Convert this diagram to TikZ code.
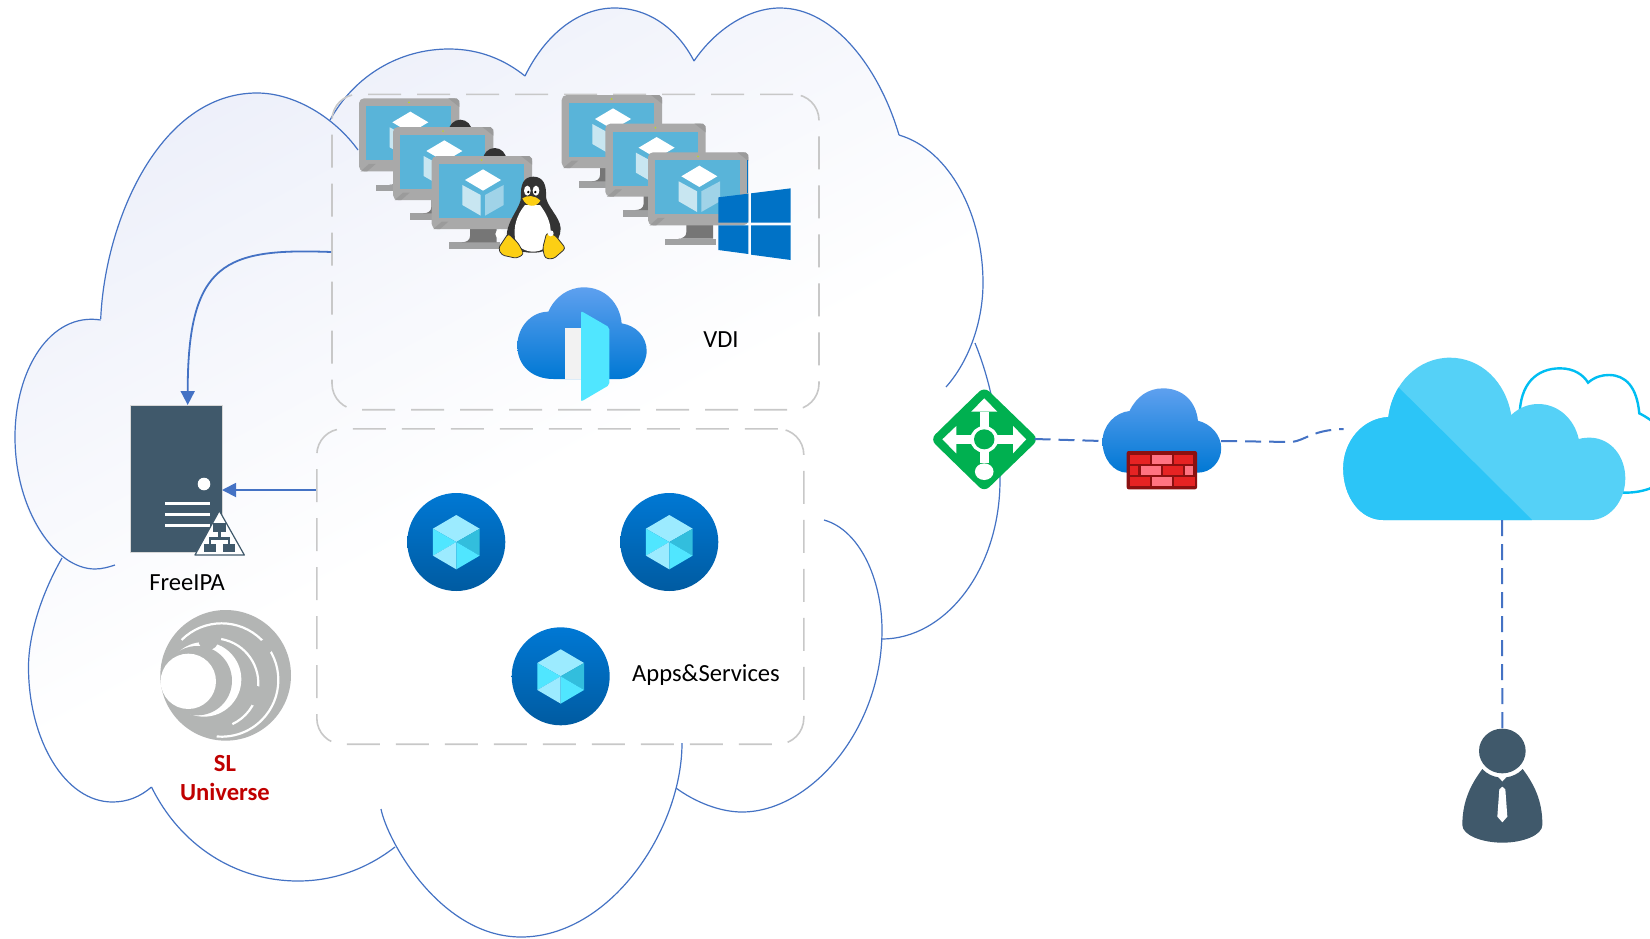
\documentclass[tikz,border=0pt]{standalone}
\usepackage{fontspec}
\setmainfont{Carlito}
\usetikzlibrary{arrows.meta,calc}
\definecolor{outlineblue}{HTML}{4472C4}
\definecolor{boxgray}{HTML}{C8C8C8}
\definecolor{cloudtint}{HTML}{EBEEF9}
\definecolor{slate}{HTML}{40596B}
\definecolor{monbezel}{HTML}{A9A9A9}
\definecolor{moncorner}{HTML}{9B9B9B}
\definecolor{monbase}{HTML}{A0A1A2}
\definecolor{monneck}{HTML}{767676}
\definecolor{monscreen}{HTML}{59B4D9}
\definecolor{cubeleft}{HTML}{C8E6F1}
\definecolor{cuberight}{HTML}{A0D3E8}
\definecolor{mondot}{HTML}{B8D432}
\definecolor{winblue}{HTML}{0072C6}
\definecolor{azuretop}{HTML}{5EA0EF}
\definecolor{azurebot}{HTML}{0078D4}
\definecolor{azuredeep}{HTML}{005BA1}
\definecolor{cyanA}{HTML}{50E6FF}
\definecolor{cyanB}{HTML}{9CEBFF}
\definecolor{cyanC}{HTML}{32BEDD}
\definecolor{routergreen}{HTML}{00B050}
\definecolor{brickdark}{HTML}{8B1010}
\definecolor{brickred}{HTML}{E62323}
\definecolor{brickpink}{HTML}{FF7381}
\definecolor{skyfront}{HTML}{2CC5F7}
\definecolor{skyback}{HTML}{55D1F7}
\definecolor{skyline}{HTML}{00BEF2}
\definecolor{sllogo}{HTML}{B3B5B4}
\definecolor{slred}{HTML}{C00000}
\definecolor{tuxdark}{HTML}{333333}
\definecolor{tuxyellow}{HTML}{FCCF14}
\pgfdeclareverticalshading{cloudbg}{100bp}{color(0bp)=(white); color(49bp)=(white); color(78bp)=(cloudtint); color(100bp)=(cloudtint)}
\tikzset{
  x=0.5pt,y=-0.5pt,
  cloudline/.style={draw=outlineblue,line width=0.6pt},
  groupbox/.style={draw=boxgray,line width=0.8pt,rounded corners=13pt,dash pattern=on 16.5pt off 8pt,minimum width=243.5pt,minimum height=157.7pt,inner sep=0pt},
  flow/.style={draw=outlineblue,line width=0.9pt,-{Triangle[width=7pt,length=7pt]}},
  link/.style={draw=outlineblue,line width=1pt,dash pattern=on 8pt off 4pt},
  anchorbox/.style={inner sep=0pt,outer sep=0pt,minimum width=#1},
  label/.style={font=\fontsize{12.3pt}{14.8pt}\selectfont,text=black,inner sep=0pt},
  monitor/.pic={
    \fill[monbase] (52,259) rectangle (205,279);
    \fill[monneck] (115,215) -- (115,240) .. controls (115,252) and (105,259) .. (90,259) -- (195,259) -- (195,215) -- cycle;
    \fill[monbezel,rounded corners=2.5pt] (0,0) rectangle (301,219);
    \fill[moncorner] (268,0) -- (293,0) -- (301,8) -- (301,26) -- cycle;
    \fill[moncorner] (5,219) -- (30,197) -- (50,197) -- (25,219) -- cycle;
    \fill[monscreen] (22,24) rectangle (277,186);
    \fill[white] (154,40) -- (208,72) -- (154,104) -- (100,72) -- cycle;
    \fill[cubeleft] (92,87) -- (147,117) -- (147,179) -- (92,147) -- cycle;
    \fill[cuberight] (160,117) -- (216,87) -- (216,147) -- (160,179) -- cycle;
    \fill[mondot] (150,12) circle (3);
  },
  cubeicon/.pic={
    \shade[top color=azurebot,bottom color=azuredeep] (0,0) circle (147);
    \fill[cyanB] (0,-81) -- (70,-40) -- (0,0) -- (-70,-40) -- cycle;
    \fill[cyanA] (-70,-40) -- (0,0) -- (-70,41) -- cycle;
    \fill[cyanC] (70,-40) -- (70,41) -- (0,0) -- cycle;
    \fill[cyanB] (-70,41) -- (0,0) -- (0,82) -- cycle;
    \fill[cyanA] (0,0) -- (70,41) -- (0,82) -- cycle;
  },
}
\begin{document}
\begin{tikzpicture}
\useasboundingbox[fill=white] (0,0) rectangle (1650,938);

% cloud silhouette
\shade[shading=cloudbg,shading angle=28]
  (100.7,319) .. controls (105,220) and (160,93) .. (257,93)
  .. controls (285,93) and (310,107) .. (330,120)
  .. controls (355,75) and (400,49) .. (449,49)
  .. controls (480,49) and (505,60) .. (525,76)
  .. controls (545,35) and (578,8) .. (614.5,8)
  .. controls (650,8) and (678,30) .. (694,61)
  .. controls (715,30) and (748,8) .. (780,8)
  .. controls (835,8) and (880,70) .. (899,135)
  .. controls (950,150) and (983,215) .. (983,283)
  .. controls (983,305) and (980,325) .. (975,343)
  .. controls (992,385) and (1000,430) .. (1000,480)
  .. controls (1000,570) and (945,639) .. (882,639)
  .. controls (860,730) and (810,812) .. (742,812)
  .. controls (720,812) and (695,802) .. (676,788)
  .. controls (650,880) and (590,937) .. (521,937)
  .. controls (470,937) and (425,900) .. (395,847)
  .. controls (368,868) and (335,881) .. (298,881)
  .. controls (235,881) and (180,845) .. (151.5,787)
  .. controls (140,797) and (127,802) .. (112.5,802)
  .. controls (65,802) and (28.5,740) .. (28.5,667)
  .. controls (28.5,640) and (38,600) .. (62,558)
  .. controls (30,530) and (15,490) .. (15,437)
  .. controls (15,370) and (50,312) .. (100.7,319) -- cycle;

% cloud outline
\draw[cloudline] (100.7,319) .. controls (105,220) and (160,93) .. (257,93) .. controls (295,93) and (335,118) .. (358,150);
\draw[cloudline] (100.7,320) .. controls (50,312) and (15,370) .. (15,437) .. controls (15,510) and (55,569) .. (95,569) .. controls (102,569) and (109,567) .. (115,565);
\draw[cloudline] (62,558) .. controls (38,600) and (28.5,640) .. (28.5,667) .. controls (28.5,740) and (65,802) .. (112.5,802) .. controls (127,802) and (140,797) .. (151.5,787);
\draw[cloudline] (151.5,787) .. controls (180,845) and (235,881) .. (298,881) .. controls (335,881) and (368,868) .. (395,847);
\draw[cloudline] (381,809) .. controls (387,840) and (440,937) .. (521,937) .. controls (610,937) and (682,830) .. (682,743);
\draw[cloudline] (676,788) .. controls (695,802) and (720,812) .. (742,812) .. controls (810,812) and (882,730) .. (882,630) .. controls (882,580) and (860,530) .. (824,520);
\draw[cloudline] (882,639) .. controls (945,639) and (1000,570) .. (1000,480) .. controls (1000,430) and (992,385) .. (975,343);
\draw[cloudline] (899,135) .. controls (950,150) and (983,215) .. (983,283) .. controls (983,320) and (970,360) .. (946,387);
\draw[cloudline] (330,120) .. controls (355,75) and (400,49) .. (449,49) .. controls (480,49) and (505,60) .. (525,76);
\draw[cloudline] (525,76) .. controls (545,35) and (578,8) .. (614.5,8) .. controls (650,8) and (678,30) .. (694,61);
\draw[cloudline] (694,61) .. controls (715,30) and (748,8) .. (780,8) .. controls (835,8) and (880,70) .. (899,135);

% group boxes
\node[groupbox] (vdibox) at (575.5,252) {};
\node[groupbox] (appsbox) at (560.3,586.5) {};

% server
\node[anchorbox=45.5pt,minimum height=73pt] (server) at (176.5,478.8) {};
\fill[slate] (131,406) rectangle (221.7,551.7);
\draw[boxgray!70,line width=0.4pt] (130.5,405.5) rectangle (222.2,552);
\fill[white] (204,484) circle (6.3);
\fill[white] (165,501.6) rectangle (210,505);
\fill[white] (165,512.6) rectangle (210,516);
\fill[white] (165,523.6) rectangle (210,527);
\begin{scope}[shift={(0,70)},scale=.33333]
  \filldraw[fill=white,draw=slate,line width=0.6pt,line join=round] (658,1322) -- (733,1455) -- (585,1455) -- cycle;
  \fill[slate] (640,1360) rectangle (677,1385);
  \fill[slate] (654,1385) rectangle (662,1405);
  \fill[slate] (627,1402) rectangle (690,1409);
  \fill[slate] (627,1402) rectangle (634,1423);
  \fill[slate] (683,1402) rectangle (690,1423);
  \fill[slate] (613,1423) rectangle (648,1447);
  \fill[slate] (668,1423) rectangle (705,1447);
\end{scope}

% arrows into the server
\coordinate (srvtop) at (187.7,405);
\coordinate (appsout) at (appsbox.west |- 0,490);
\draw[flow] (vdibox.west) .. controls (225,248) and (187.7,262) .. (srvtop);
\draw[flow] (appsout) -- (server.east |- appsout);

% SL logo
\begin{scope}[shift={(110,390)},scale=.33333]
  \fill[sllogo] (347,856) circle (196);
  \draw[white,line width=1.1pt] (335,870) ++(-135:170) arc (-135:95:170);
  \draw[white,line width=1.1pt] (310,880) ++(-80:135) arc (-80:65:135);
  \fill[white] (282,868) circle (112);
  \fill[sllogo] (262,872) circle (104);
  \fill[white] (235,874) circle (83);
  \fill[sllogo] (295,750) circle (30);
  \fill[sllogo] (467,770) circle (22);
  \fill[sllogo] (440,918) circle (30);
\end{scope}

% labels
\node[label] (freeipa) at (187,583) {FreeIPA};
\node[label] (vdilabel) at (721,340) {VDI};
\node[label] (appslabel) at (706,675) {Apps\&Services};
\node[label,text=slred,font=\fontsize{12.3pt}{14.8pt}\selectfont\bfseries,align=center] (sl) at (225,778) {SL\\Universe};

% linux monitors
\pic[scale=.33333] at (359,98.3) {monitor};
\fill[tuxdark] (460.3,131.7) ellipse (11.7 and 12);
\pic[scale=.33333] at (393,127) {monitor};
\fill[tuxdark] (494.7,160) ellipse (11.7 and 12);
\pic[scale=.33333] at (431.7,156) {monitor};

% tux
\begin{scope}[shift={(320,80)},scale=.33333]
  \fill[white] (540,462) circle (14);
  \fill[tuxdark] (640,290) .. controls (610,290) and (601,315) .. (603,350)
     .. controls (605,380) and (560,420) .. (560,470)
     .. controls (560,500) and (600,520) .. (640,518)
     .. controls (680,520) and (722,490) .. (722,445)
     .. controls (720,410) and (680,380) .. (678,350)
     .. controls (680,315) and (670,290) .. (640,290) -- cycle;
  \fill[white] (615,375) .. controls (590,405) and (580,440) .. (585,475)
     .. controls (590,505) and (620,515) .. (640,515)
     .. controls (665,515) and (690,500) .. (692,465)
     .. controls (695,425) and (675,395) .. (660,375) -- cycle;
  \fill[white] (622,332) ellipse (10 and 15);
  \fill[white] (648,332) ellipse (10 and 15);
  \fill[black] (625,336) circle (4);
  \fill[black] (646,336) circle (4);
  \fill[tuxyellow] (607,355) .. controls (622,345) and (645,345) .. (661,362)
     .. controls (650,382) and (620,385) .. (607,355) -- cycle;
  \filldraw[fill=tuxyellow,draw=tuxdark,line width=.4pt,rounded corners=1.5pt] (535,505) -- (565,460) -- (595,490) -- (612,522) -- (590,535) -- (545,525) -- cycle;
  \filldraw[fill=tuxyellow,draw=tuxdark,line width=.4pt,rounded corners=1.5pt] (668,505) -- (680,458) -- (705,465) -- (737,505) -- (700,537) -- (675,535) -- cycle;
  \fill[white] (692,460) circle (9);
\end{scope}

% windows monitors
\pic[scale=.33333] at (561.7,95) {monitor};
\pic[scale=.33333] at (605.3,123.7) {monitor};
\pic[scale=.33333] at (648,152.3) {monitor};
\begin{scope}[shift={(320,80)},scale=.33333]
  \fill[winblue] (1281,240) rectangle (1284,340);
  \fill[winblue] (1195,352) -- (1285,341) -- (1285,428) -- (1195,428) -- cycle;
  \fill[winblue] (1293,340) -- (1412,325) -- (1412,428) -- (1293,428) -- cycle;
  \fill[winblue] (1195,436) -- (1285,436) -- (1285,522) -- (1195,510) -- cycle;
  \fill[winblue] (1293,436) -- (1412,436) -- (1412,540) -- (1293,524) -- cycle;
% gateway cloud
  \shade[top color=azuretop,bottom color=azurebot] (700,897) .. controls (640,897) and (592,860) .. (592,797)
    .. controls (592,740) and (635,695) .. (685,695)
    .. controls (705,650) and (745,622) .. (792,622)
    .. controls (855,622) and (900,670) .. (905,730)
    .. controls (950,737) and (980,772) .. (980,812)
    .. controls (980,860) and (940,897) .. (900,897) -- cycle;
  \fill[black!5] (735,743) rectangle (785,897);
  \fill[cyanA,rounded corners=1pt] (783,693) -- (868,742) -- (868,915) -- (783,965) -- cycle;
\end{scope}

% application icons
\pic[scale=.33333] at (456.3,542) {cubeicon};
\pic[scale=.33333] at (669.3,542) {cubeicon};
\pic[scale=.33333] at (560.7,676.3) {cubeicon};

% router
\node[anchorbox=50.5pt,minimum height=50pt] (router) at (984,439) {};
\begin{scope}[shift={(920,350)},xscale=.46555,yscale=.33333]
  \fill[routergreen,rounded corners=3.5pt] (138,110) -- (255,268) -- (138,426) -- (22,268) -- cycle;
  \fill[white] (128,185) rectangle (148,340);
  \fill[white] (110,185) -- (138,145) -- (166,185) -- cycle;
  \fill[white] (78,254) rectangle (200,282);
  \fill[white] (78,228) -- (48,268) -- (78,310) -- cycle;
  \fill[white] (200,228) -- (228,268) -- (200,310) -- cycle;
  \fill[white] (138,365) ellipse (20 and 25);
  \fill[white] (138,268) ellipse (30 and 40);
  \fill[routergreen] (138,268) ellipse (22 and 30);
\end{scope}

% firewall
\node[anchorbox=59.3pt,minimum height=50pt] (firewall) at (1161.8,441) {};
\begin{scope}[shift={(920,350)},xscale=.46555,yscale=.33333]
  \shade[top color=azuretop,bottom color=azurebot] (445,368) .. controls (415,368) and (392,325) .. (392,275)
    .. controls (392,225) and (420,187) .. (450,183)
    .. controls (465,140) and (490,115) .. (522,115)
    .. controls (565,115) and (593,155) .. (597,212)
    .. controls (625,222) and (647,255) .. (647,295)
    .. controls (647,335) and (625,368) .. (597,368) -- cycle;
  \fill[brickdark,rounded corners=1pt] (444,303) rectangle (595,418);
  \fill[brickred] (451,315) rectangle (494,342);
  \fill[brickpink] (498,315) rectangle (541,342);
  \fill[brickred] (546,315) rectangle (587,342);
  \fill[brickred] (451,349) rectangle (469,375);
  \fill[brickpink] (475,349) rectangle (517,375);
  \fill[brickred] (522,349) rectangle (564,375);
  \fill[brickpink] (570,349) rectangle (587,375);
  \fill[brickred] (452,381) rectangle (494,408);
  \fill[brickpink] (498,381) rectangle (541,408);
  \fill[brickred] (546,381) rectangle (590,408);
\end{scope}

% big cloud
\begin{scope}
  \clip (1200,300) rectangle (1650,600);
  \begin{scope}[shift={(920,350)},xscale=.46555,yscale=.33333]
    \filldraw[fill=white,draw=skyline,line width=1.2pt] (1288,200) .. controls (1288,100) and (1325,55) .. (1375,55)
      .. controls (1405,55) and (1425,75) .. (1435,98)
      .. controls (1450,80) and (1465,75) .. (1480,75)
      .. controls (1515,75) and (1540,110) .. (1545,190)
      .. controls (1575,210) and (1620,260) .. (1620,330)
      .. controls (1620,390) and (1570,430) .. (1510,428) -- cycle;
  \end{scope}
\end{scope}
\begin{scope}[shift={(920,350)},xscale=.46555,yscale=.33333]
  \fill[skyback] (995,510) .. controls (945,510) and (909,440) .. (909,355)
    .. controls (909,275) and (950,205) .. (1006,201)
    .. controls (1015,100) and (1070,23) .. (1138,23)
    .. controls (1205,23) and (1258,95) .. (1270,195)
    .. controls (1285,175) and (1305,162) .. (1328,162)
    .. controls (1370,162) and (1405,205) .. (1415,267)
    .. controls (1425,263) and (1435,263) .. (1440,263)
    .. controls (1485,265) and (1515,320) .. (1515,385)
    .. controls (1515,455) and (1480,510) .. (1440,510) -- cycle;
  \begin{scope}
    \clip (995,510) .. controls (945,510) and (909,440) .. (909,355)
    .. controls (909,275) and (950,205) .. (1006,201)
    .. controls (1015,100) and (1070,23) .. (1138,23) -- (1315,510) -- cycle;
    \fill[skyfront] (960,18) -- (1315,510) -- (900,510) -- (900,18) -- cycle;
  \end{scope}
\end{scope}
\node[anchorbox=141pt,minimum height=81pt] (bigcloud) at (1484,439) {};
\coordinate (cloudin) at (1343.6,429);
\coordinate (cloudout) at (1502,520);

% person
\begin{scope}[shift={(1430,700)},scale=.33333]
  \fill[slate] (217,153) ellipse (70 and 67);
  \fill[slate] (157,207) .. controls (170,222) and (190,230) .. (205,232) -- (217,245) -- (229,232)
    .. controls (245,230) and (265,222) .. (278,207)
    .. controls (310,250) and (338,300) .. (337,375)
    .. controls (337,405) and (280,428) .. (217,428)
    .. controls (155,428) and (97,405) .. (97,375)
    .. controls (97,300) and (125,250) .. (157,207) -- cycle;
  \fill[white] (208,268) -- (217,260) -- (226,268) -- (232,350) -- (217,367) -- (202,350) -- cycle;
\end{scope}
\node[anchorbox=40pt,minimum height=57pt] (person) at (1502.3,785.7) {};

% dashed links
\draw[link] (router.east) -- (firewall.west);
\draw[link] (firewall.east) -- (1292,442) .. controls (1306,440) and (1312,430) .. (cloudin);
\draw[link] (cloudout) -- (person.north);
\end{tikzpicture}
\end{document}
